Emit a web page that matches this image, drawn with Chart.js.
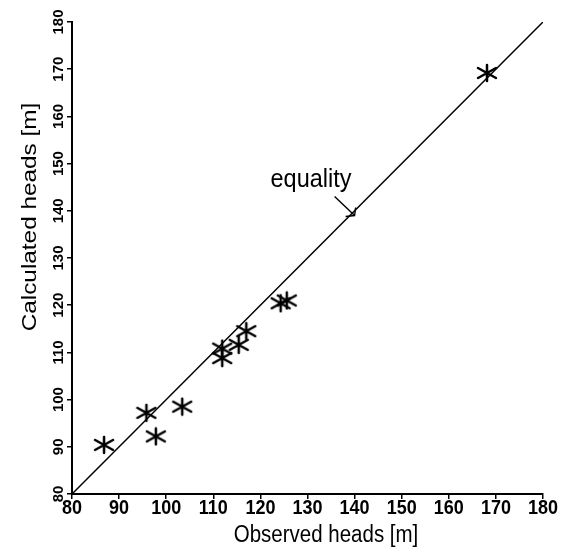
<!DOCTYPE html>
<html>
<head>
<meta charset="utf-8">
<script src="https://cdn.jsdelivr.net/npm/chart.js@4"></script>
<style>
  html, body { margin: 0; padding: 0; background: #fff; }
  #wrap { width: 566px; height: 547px; }
</style>
</head>
<body>
<div id="wrap"><canvas id="heads-chart"></canvas></div>
<script>
// observed vs calculated heads
const observed   = [86.8, 95.8, 97.8, 103.4, 111.9, 111.9, 115.4, 117.0, 124.3, 125.6, 168.1];
const calculated = [90.4, 97.2, 92.2, 98.5, 108.8, 110.8, 111.6, 114.5, 120.4, 121.0, 169.2];
const equalityLine = [80, 180];
const tickValues = [80, 90, 100, 110, 120, 130, 140, 150, 160, 170, 180];
const xTitle = 'Observed heads [m]';
const yTitle = 'Calculated heads [m]';
const noteText = 'equality';

// asterisk marker
const star = document.createElement('canvas');
star.width = 22; star.height = 20;
const sc = star.getContext('2d');
sc.strokeStyle = '#000';
sc.lineWidth = 2.5;
sc.lineCap = 'round';
sc.translate(11, 10);
sc.beginPath();
sc.moveTo(0, -8); sc.lineTo(0, 8);
sc.moveTo(-9, -5); sc.lineTo(9, 5);
sc.moveTo(-9, 5); sc.lineTo(9, -5);
sc.stroke();

const FONT = '"Liberation Sans", Arial, sans-serif';

// text with a stretch (the scanned figure is not square)
function stretchText(ctx, text, x, y, font, rot, sx, sy) {
  ctx.save();
  ctx.translate(x, y);
  if (rot) ctx.rotate(rot);
  ctx.scale(sx, sy);
  ctx.font = font + ' ' + FONT;
  ctx.textAlign = 'center';
  ctx.textBaseline = 'alphabetic';
  ctx.fillText(text, 0, 0);
  ctx.restore();
}

const labels = {
  id: 'labels',
  afterDraw(chart) {
    const { ctx, scales } = chart;
    ctx.save();
    ctx.fillStyle = '#000';
    tickValues.forEach(v => {
      stretchText(ctx, String(v), scales.x.getPixelForValue(v), 514, 'bold 18px', 0, 1, 1.15);
      stretchText(ctx, String(v), 63, scales.y.getPixelForValue(v), 'bold 15px', -Math.PI / 2, 1, 1);
    });
    stretchText(ctx, xTitle, 326, 542, '20.5px', 0, 1, 1.18);
    stretchText(ctx, yTitle, 36, 217, '20.3px', -Math.PI / 2, 1.2, 1);

    // equality arrow
    const tx = scales.x.getPixelForValue(140);
    const ty = scales.y.getPixelForValue(139);
    ctx.strokeStyle = '#000';
    ctx.lineWidth = 1.4;
    ctx.beginPath();
    ctx.moveTo(tx - 20, ty - 19);
    ctx.lineTo(tx, ty);
    ctx.moveTo(tx - 9, ty + 1);
    ctx.lineTo(tx, ty);
    ctx.lineTo(tx + 1, ty - 8);
    ctx.stroke();
    stretchText(ctx, noteText, 311, 187, '23.5px', 0, 1, 1.1);
    ctx.restore();
  }
};

new Chart(document.getElementById('heads-chart'), {
  type: 'scatter',
  data: {
    datasets: [
      {
        label: 'heads',
        data: observed.map((v, i) => ({ x: v, y: calculated[i] })),
        pointStyle: star,
        pointRadius: 10
      },
      {
        type: 'line',
        label: 'equality',
        data: equalityLine.map(v => ({ x: v, y: v })),
        borderColor: '#000',
        borderWidth: 1.5,
        pointRadius: 0,
        fill: false
      }
    ]
  },
  options: {
    responsive: true,
    maintainAspectRatio: false,
    animation: false,
    layout: { padding: { top: 22, right: 23, left: 0, bottom: 0 } },
    plugins: { legend: { display: false }, tooltip: { enabled: false } },
    scales: {
      x: {
        type: 'linear',
        min: 80, max: 180,
        afterBuildTicks: s => { s.ticks = tickValues.map(v => ({ value: v })); },
        afterFit: s => { s.height = 53; },
        border: { color: '#000', width: 2 },
        grid: { display: true, drawOnChartArea: false, color: '#000', tickLength: 5, lineWidth: 1.5 },
        ticks: { display: false }
      },
      y: {
        type: 'linear',
        min: 80, max: 180,
        afterBuildTicks: s => { s.ticks = tickValues.map(v => ({ value: v })); },
        afterFit: s => { s.width = 72; },
        border: { color: '#000', width: 2 },
        grid: { display: true, drawOnChartArea: false, color: '#000', tickLength: 5, lineWidth: 1.5 },
        ticks: { display: false }
      }
    }
  },
  plugins: [labels]
});
</script>
</body>
</html>
